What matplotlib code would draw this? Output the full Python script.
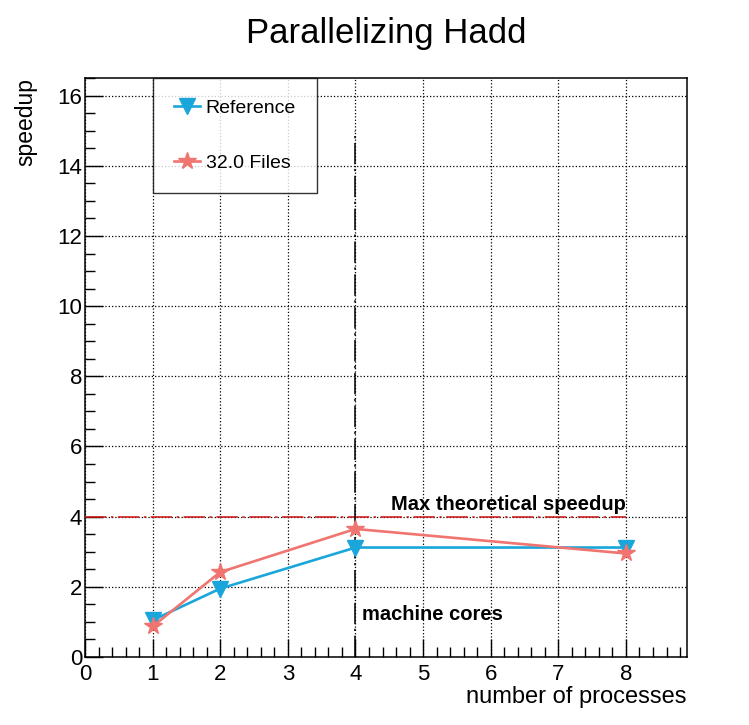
import matplotlib.pyplot as plt
from matplotlib.ticker import MultipleLocator

# data
nproc = [1, 2, 4, 8]
speedup_ref = [1.05, 1.95, 3.12, 3.12]
speedup_32 = [0.87, 2.42, 3.65, 2.95]
max_speedup = 4
machine_cores = 4

plt.rcParams['font.family'] = ['Liberation Sans', 'DejaVu Sans']

fig = plt.figure(figsize=(7.49, 7.25), dpi=100)
ax = fig.add_axes([0.1135, 0.0938, 0.8035, 0.7985])

blue = '#1aa6da'
red = '#f07470'

ax.plot(nproc, speedup_ref, color=blue, lw=1.9, marker='v', ms=11,
        label='Reference', zorder=4)
ax.plot(nproc, speedup_32, color=red, lw=1.9, marker='*', ms=13,
        label='32.0 Files', zorder=5)

# theoretical limit and core count
ax.plot([0, nproc[-1]], [max_speedup, max_speedup], color='#cc1111', lw=1.1,
        ls=(0, (14, 3, 1.5, 3)), zorder=3)
ax.plot([machine_cores, machine_cores], [0, 15], color='black', lw=1.1,
        ls=(0, (14, 3, 1.5, 3)), zorder=3)
ax.text(nproc[-1], 4.2, 'Max theoretical speedup', ha='right', va='baseline',
        fontsize=14.5, fontweight='bold')
ax.text(4.1, 1.05, 'machine cores', ha='left', va='baseline',
        fontsize=14.5, fontweight='bold')

ax.set_xlim(0, 8.9)
ax.set_ylim(0, 16.5)
ax.xaxis.set_major_locator(MultipleLocator(1))
ax.xaxis.set_minor_locator(MultipleLocator(0.2))
ax.yaxis.set_major_locator(MultipleLocator(2))
ax.yaxis.set_minor_locator(MultipleLocator(0.5))
ax.tick_params(which='both', direction='in', labelsize=16, width=1)
ax.tick_params(which='major', length=13)
ax.tick_params(which='minor', length=7)
ax.tick_params(axis='x', pad=5)
ax.tick_params(axis='y', pad=2)
ax.grid(True, which='major', color='black', ls=':', lw=0.9)
for s in ax.spines.values():
    s.set_linewidth(1.1)

ax.set_title('Parallelizing Hadd', fontsize=25, pad=25)
ax.set_xlabel('number of processes', fontsize=17, loc='right')
ax.xaxis.set_label_coords(1.0, -0.05)
ax.set_ylabel('speedup', fontsize=16.5, loc='top')
ax.yaxis.set_label_coords(-0.08, 1.0)

leg = ax.legend(loc='upper left', bbox_to_anchor=(0.113, 1.0), fontsize=14,
                frameon=True, fancybox=False, edgecolor='black',
                labelspacing=1.9, borderpad=1.1, handlelength=1.3,
                handletextpad=0.3, borderaxespad=0)
leg.get_frame().set_linewidth(1.0)

fig.savefig('out.png', dpi=100, facecolor='white')
